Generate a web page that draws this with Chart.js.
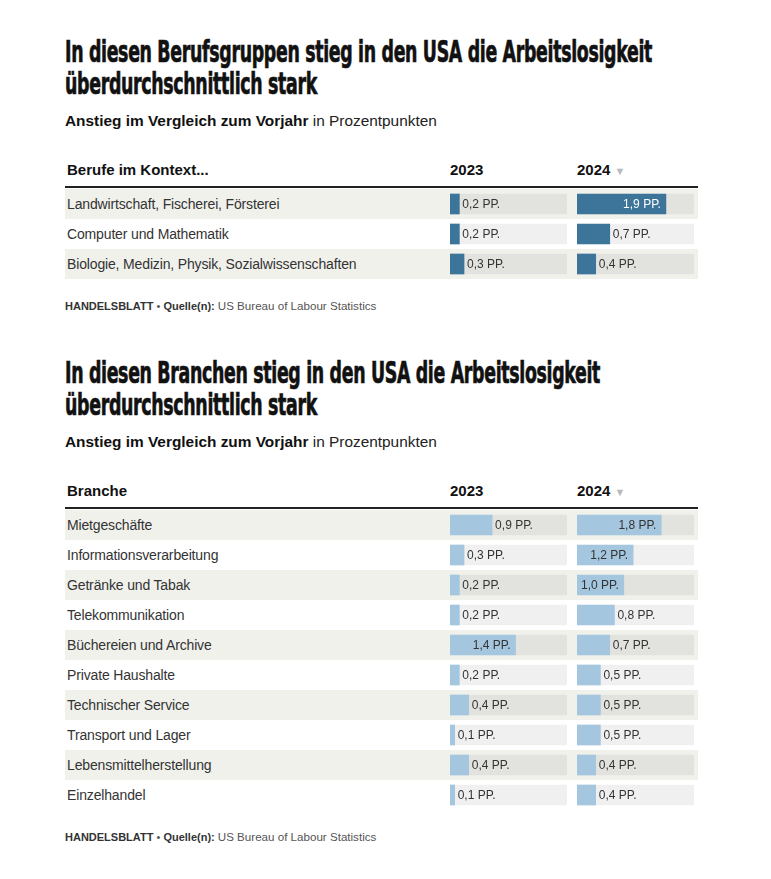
<!DOCTYPE html>
<html lang="de">
<head>
<meta charset="utf-8">
<script src="https://cdn.jsdelivr.net/npm/chart.js@4.4.1/dist/chart.umd.min.js"></script>
<style>
  body { margin: 0; background: #fff; font-family: "Liberation Sans", Arial, sans-serif; color: #222; }
  #page { position: relative; width: 771px; height: 879px; }
  .title { position: absolute; left: 65px; margin: 0; font-family: "DejaVu Sans"; font-stretch: condensed;
           font-weight: bold; font-size: 30px; line-height: 32px; color: #111; white-space: nowrap;
           transform-origin: 0 0; letter-spacing: -0.5px; -webkit-text-stroke: 0.7px #111; }
  .sub { position: absolute; left: 65px; font-size: 15.4px; line-height: 20px; color: #222; }
  .sub b { font-weight: bold; color: #111; }
  .hdr { position: absolute; font-size: 15px; font-weight: bold; color: #111; line-height: 20px; }
  .hdr .arr { color: #bbb; font-size: 11px; margin-left: 4px; }
  .rule { position: absolute; left: 65px; width: 633px; height: 2px; background: #222; }
  .row { position: absolute; left: 65px; width: 633px; height: 30px; }
  .row.s { background: #f1f1ec; }
  .lbl { position: absolute; left: 67px; font-size: 14px; line-height: 30px; color: #333; white-space: nowrap; letter-spacing: -0.15px; }
  .foot { position: absolute; left: 65px; font-size: 11px; line-height: 14px; color: #555; }
  .foot b { color: #333; }
  .foot span { font-size: 11.6px; }
  canvas { position: absolute; }
</style>
</head>
<body>
<div id="page"></div>
<script>
// --- data ---
const title1 = ['In diesen Berufsgruppen stieg in den USA die Arbeitslosigkeit', 'überdurchschnittlich stark'];
const head1 = 'Berufe im Kontext...';
const cats1 = ['Landwirtschaft, Fischerei, Försterei', 'Computer und Mathematik', 'Biologie, Medizin, Physik, Sozialwissenschaften'];
const v2023a = [0.2, 0.2, 0.3];
const v2024a = [1.9, 0.7, 0.4];

const title2 = ['In diesen Branchen stieg in den USA die Arbeitslosigkeit', 'überdurchschnittlich stark'];
const head2 = 'Branche';
const cats2 = ['Mietgeschäfte', 'Informationsverarbeitung', 'Getränke und Tabak', 'Telekommunikation',
  'Büchereien und Archive', 'Private Haushalte', 'Technischer Service', 'Transport und Lager',
  'Lebensmittelherstellung', 'Einzelhandel'];
const v2023b = [0.9, 0.3, 0.2, 0.2, 1.4, 0.2, 0.4, 0.1, 0.4, 0.1];
const v2024b = [1.8, 1.2, 1.0, 0.8, 0.7, 0.5, 0.5, 0.5, 0.4, 0.4];

const years = ['2023', '2024'];
const axisMax = 2.5;
const subtitleBold = 'Anstieg im Vergleich zum Vorjahr';
const subtitleRest = ' in Prozentpunkten';
const source = 'US Bureau of Labour Statistics';

const fmt = v => v.toFixed(1).replace('.', ',') + ' PP.';

const valueLabels = {
  id: 'valueLabels',
  afterDatasetsDraw(chart, args, opts) {
    const ctx = chart.ctx;
    const meta = chart.getDatasetMeta(1);
    const vals = chart.data.datasets[1].data;
    const left = chart.chartArea.left;
    ctx.save();
    ctx.font = '12px "Liberation Sans", Arial, sans-serif';
    ctx.textBaseline = 'middle';
    meta.data.forEach((bar, i) => {
      const txt = fmt(vals[i]);
      const w = ctx.measureText(txt).width;
      if (bar.x - left > w + 6) {
        ctx.textAlign = 'right';
        ctx.fillStyle = opts.inside;
        ctx.fillText(txt, bar.x - 5, bar.y + 1);
      } else {
        ctx.textAlign = 'left';
        ctx.fillStyle = '#333';
        ctx.fillText(txt, bar.x + 3, bar.y + 1);
      }
    });
    ctx.restore();
  }
};

const page = document.getElementById('page');
function el(tag, cls, css, html) {
  const e = document.createElement(tag);
  if (cls) e.className = cls;
  Object.assign(e.style, css || {});
  if (html != null) e.innerHTML = html;
  page.appendChild(e);
  return e;
}

function barChart(x, y, cats, vals, color, inside) {
  const c = el('canvas', null, { left: x + 'px', top: y + 'px' });
  c.width = 117; c.height = cats.length * 30;
  c.style.width = '117px'; c.style.height = c.height + 'px';
  return new Chart(c, {
    type: 'bar',
    data: {
      labels: cats,
      datasets: [
        { data: cats.map(() => axisMax), backgroundColor: 'rgba(0,0,0,0.06)', grouped: false, order: 2, barThickness: 20 },
        { data: vals, backgroundColor: color, grouped: false, order: 1, barThickness: 20 }
      ]
    },
    options: {
      indexAxis: 'y',
      responsive: false,
      animation: false,
      layout: { padding: 0 },
      plugins: { legend: { display: false }, tooltip: { enabled: false }, valueLabels: { inside } },
      scales: {
        x: { display: false, min: 0, max: axisMax },
        y: { display: false }
      }
    },
    plugins: [valueLabels]
  });
}

let titleScale = null;
function block(top, title, head, cats, a, b, color, inside) {
  const t = el('h1', 'title', { top: top + 'px' }, title.map(s => '<span>' + s + '</span>').join('<br>'));
  if (titleScale == null) titleScale = 587 / t.querySelector('span').getBoundingClientRect().width;
  t.style.transform = 'scaleX(' + titleScale + ')';

  el('div', 'sub', { top: (top + 75) + 'px' }, '<b>' + subtitleBold + '</b>' + subtitleRest);
  const hy = top + 124;
  el('div', 'hdr', { top: hy + 'px', left: '67px' }, head);
  el('div', 'hdr', { top: hy + 'px', left: '450px' }, years[0]);
  el('div', 'hdr', { top: hy + 'px', left: '577px' }, years[1] + '<span class="arr">▼</span>');
  el('div', 'rule', { top: (top + 150) + 'px' });

  const ry = top + 153;
  cats.forEach((c, i) => {
    el('div', 'row' + (i % 2 === 0 ? ' s' : ''), { top: (ry + i * 30) + 'px' });
    el('div', 'lbl', { top: (ry + i * 30) + 'px' }, c);
  });
  barChart(450, ry, cats, a, color, inside);
  barChart(577, ry, cats, b, color, inside);

  el('div', 'foot', { top: (ry + cats.length * 30 + 20) + 'px' },
    '<b>HANDELSBLATT</b> • <b>Quelle(n):</b> <span>' + source + '</span>');
}

block(36, title1, head1, cats1, v2023a, v2024a, '#3d7499', '#fff');
block(357, title2, head2, cats2, v2023b, v2024b, '#a4c6df', '#333');
</script>
</body>
</html>
